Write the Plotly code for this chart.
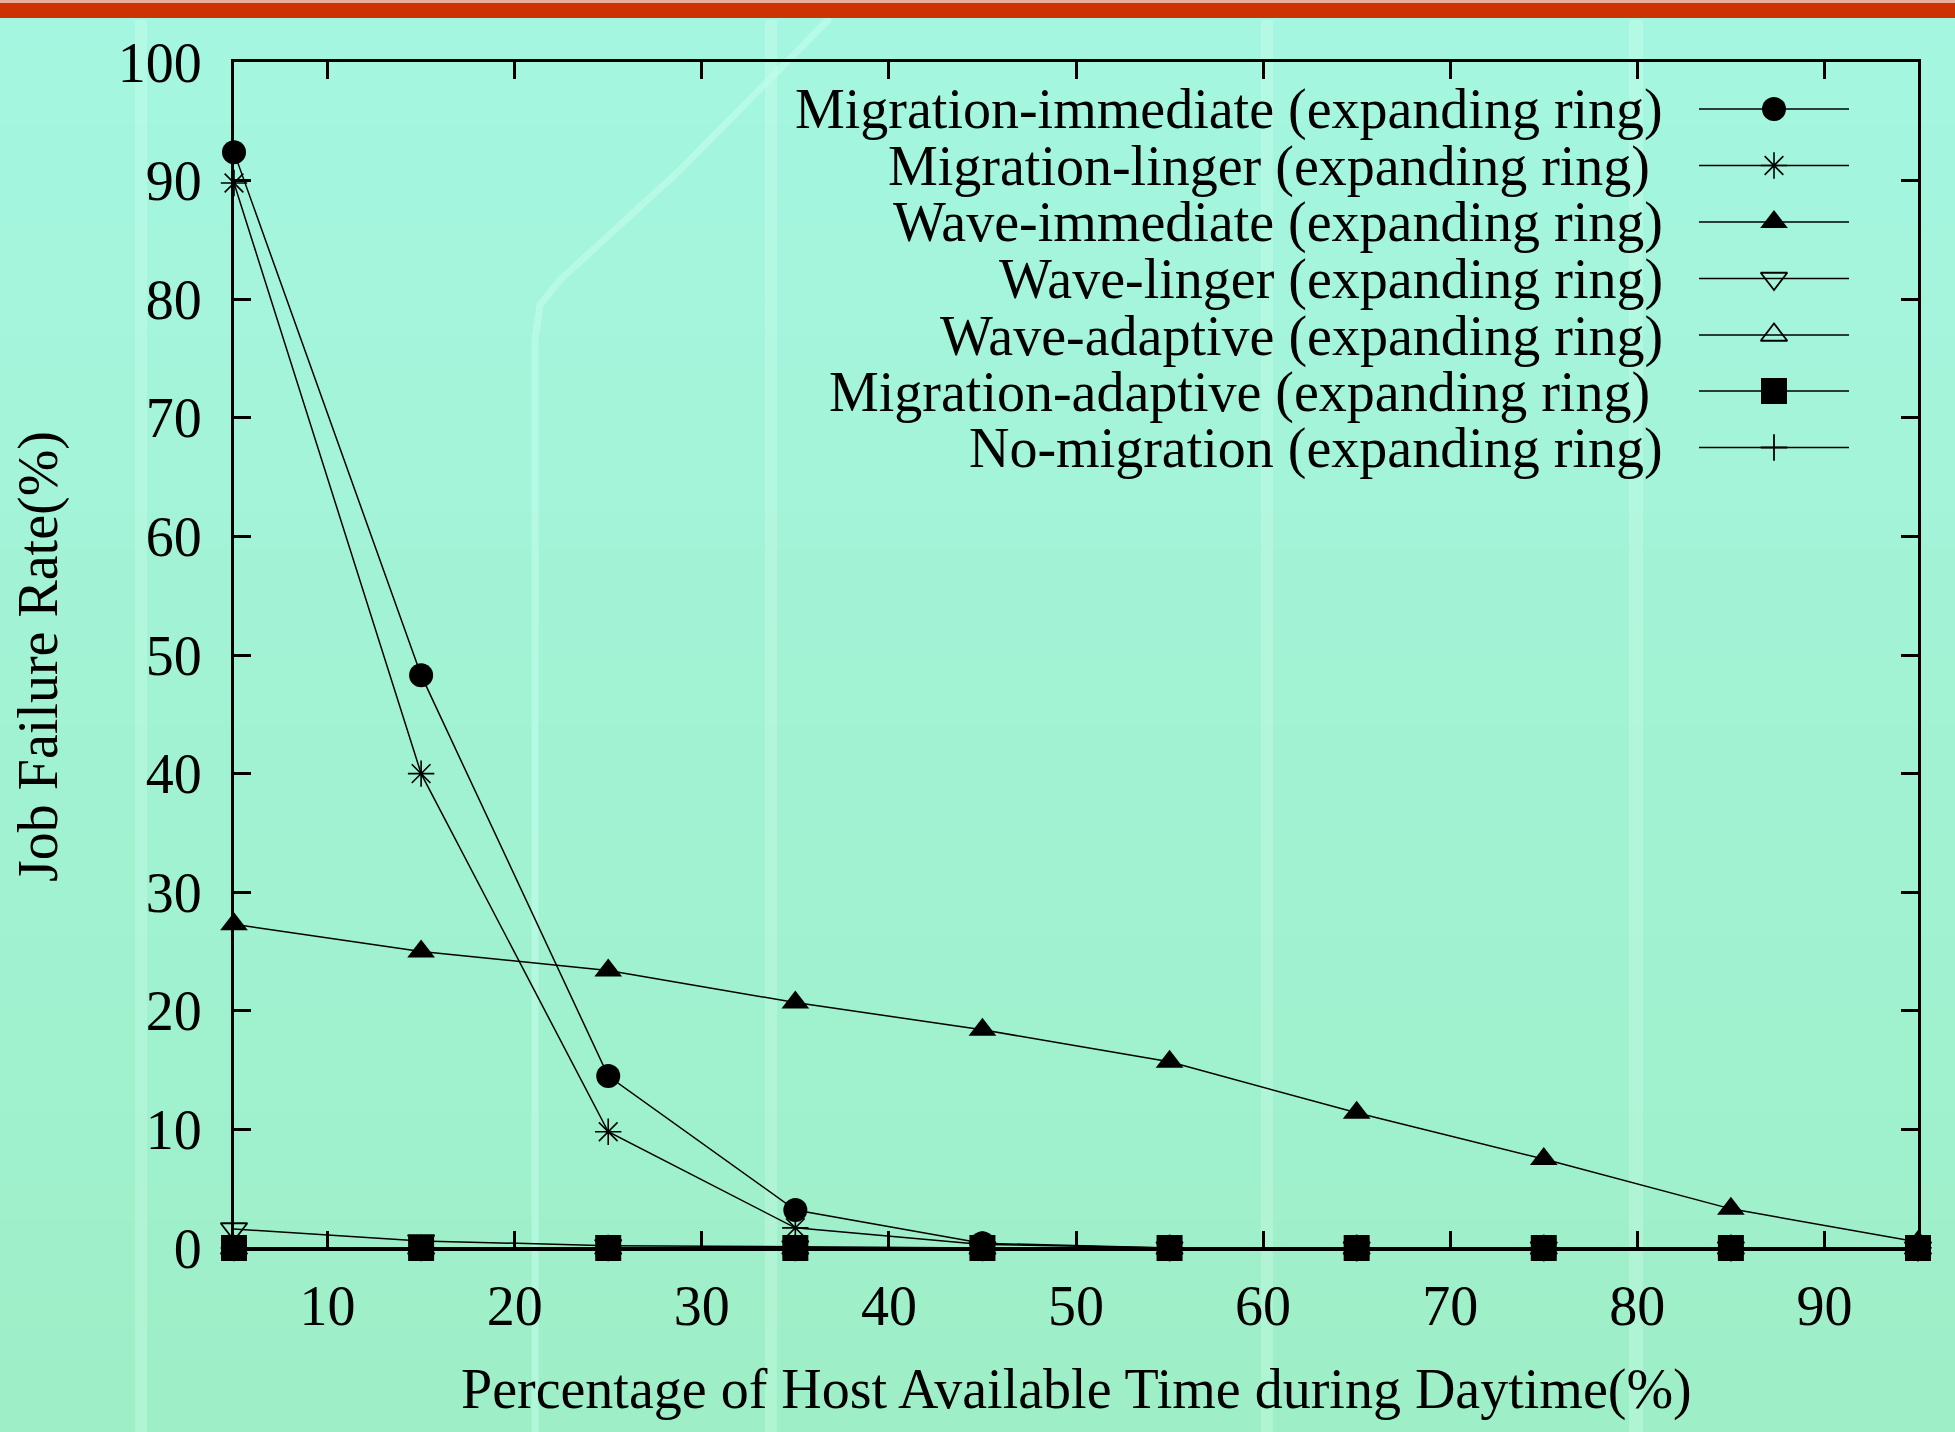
import plotly.graph_objects as go

# ---------------- data ----------------
x_vals = [5, 15, 25, 35, 45, 55, 65, 75, 85, 95]
series_names = [
    "Migration-immediate (expanding ring)",
    "Migration-linger (expanding ring)",
    "Wave-immediate (expanding ring)",
    "Wave-linger (expanding ring)",
    "Wave-adaptive (expanding ring)",
    "Migration-adaptive (expanding ring)",
    "No-migration (expanding ring)",
]
migration_immediate = [92.4, 48.3, 14.5, 3.2, 0.4, 0, 0, 0, 0, 0]
migration_linger = [89.8, 40.0, 9.8, 1.7, 0.3, 0, 0, 0, 0, 0]
wave_immediate = [27.3, 25.0, 23.4, 20.7, 18.4, 15.7, 11.4, 7.5, 3.3, 0.5]
wave_linger = [1.6, 0.6, 0.2, 0.1, 0, 0, 0, 0, 0, 0]
wave_adaptive = [0, 0, 0, 0, 0, 0, 0, 0, 0, 0]
migration_adaptive = [0, 0, 0, 0, 0, 0, 0, 0, 0, 0]
no_migration = [0, 0, 0, 0, 0, 0, 0, 0, 0, 0]
series_values = [migration_immediate, migration_linger, wave_immediate,
                 wave_linger, wave_adaptive, migration_adaptive, no_migration]
x_ticks = [10, 20, 30, 40, 50, 60, 70, 80, 90]
y_ticks = [0, 10, 20, 30, 40, 50, 60, 70, 80, 90, 100]
x_title = "Percentage of Host Available Time during Daytime(%)"
y_title = "Job Failure Rate(%)"

# ---------------- styles ----------------
W, H = 1955, 1432
L, R, T, B = 234, 37, 62, 184
FONT = "Liberation Serif, Times New Roman, serif"
FS = 56
symbols = ["circle", "asterisk-open", "triangle-up", "triangle-down-open",
           "triangle-up-open", "square", "cross-thin-open"]
sizes = [24, 22, 24, 23, 23, 26, 19]
mlw = [0, 1.6, 0, 1.8, 1.8, 0, 1.8]


def px(xp):
    return (xp - L) / (W - L - R)


def py(yp):
    return (H - B - yp) / (H - T - B)


fig = go.Figure()
for name, vals, sym, sz, lw in zip(series_names, series_values, symbols, sizes, mlw):
    fig.add_trace(go.Scatter(
        x=x_vals, y=vals, name=name, mode="lines+markers",
        line=dict(color="black", width=1.5),
        marker=dict(symbol=sym, size=sz, color="black",
                    line=dict(color="black", width=lw)),
        cliponaxis=False, showlegend=False))

# ------------- gnuplot-style key (text left, sample right) -------------
row_y = [109, 165.5, 222, 278.5, 335, 391, 447.5]
text_right = [1665, 1652, 1665, 1665, 1665, 1652, 1665]
annotations = []
for i, (name, sym, sz, lw) in enumerate(zip(series_names, symbols, sizes, mlw)):
    fig.add_trace(go.Scatter(
        x=[1699, 1849], y=[row_y[i], row_y[i]], mode="lines",
        line=dict(color="black", width=1.5), xaxis="x2", yaxis="y2",
        showlegend=False, hoverinfo="skip"))
    fig.add_trace(go.Scatter(
        x=[1774], y=[row_y[i]], mode="markers",
        marker=dict(symbol=sym, size=sz, color="black",
                    line=dict(color="black", width=lw)),
        xaxis="x2", yaxis="y2", showlegend=False, hoverinfo="skip"))
    annotations.append(dict(
        x=px(text_right[i]), y=py(row_y[i] + 1), xref="paper", yref="paper",
        text=name, showarrow=False, xanchor="right", yanchor="middle",
        font=dict(family=FONT, size=FS, color="black")))

annotations.append(dict(x=px(1076), y=py(1390), xref="paper", yref="paper",
                        text=x_title, showarrow=False, xanchor="center",
                        yanchor="middle",
                        font=dict(family=FONT, size=FS, color="black")))
annotations.append(dict(x=px(38), y=py(657), xref="paper", yref="paper",
                        text=y_title, textangle=-90, showarrow=False,
                        xanchor="center", yanchor="middle",
                        font=dict(family=FONT, size=FS, color="black")))

# ---------------- background decoration ----------------
shapes = []
top_c = (165, 246, 224)
bot_c = (158, 239, 199)
nb = 40
y0 = 18
for k in range(nb):
    a = y0 + (H - y0) * k / nb
    b = y0 + (H - y0) * (k + 1) / nb
    t = (k + 0.5) / nb
    c = tuple(int(round(top_c[j] + (bot_c[j] - top_c[j]) * t)) for j in range(3))
    shapes.append(dict(type="rect", xref="paper", yref="paper",
                       x0=px(0), x1=px(W), y0=py(b), y1=py(a - 0.5),
                       fillcolor="rgb(%d,%d,%d)" % c, line=dict(width=0),
                       layer="below"))
# vertical light stripes
for sx, sw in [(141, 12), (771, 12), (1267, 12), (1636, 14)]:
    shapes.append(dict(type="rect", xref="paper", yref="paper",
                       x0=px(sx - sw / 2), x1=px(sx + sw / 2), y0=py(H), y1=py(20),
                       fillcolor="rgba(215,255,240,0.3)", line=dict(width=0),
                       layer="below"))
# curved light streak
pts = [(535, H), (535, 340), (540, 305), (560, 280), (680, 170), (830, 18)]
path = "M " + " L ".join("%f,%f" % (px(a), py(b)) for a, b in pts)
shapes.append(dict(type="path", xref="paper", yref="paper", path=path,
                   line=dict(color="rgba(200,255,240,0.5)", width=7),
                   layer="below"))
# top red bar
shapes.append(dict(type="rect", xref="paper", yref="paper",
                   x0=px(0), x1=px(W), y0=py(18), y1=py(3),
                   fillcolor="#CC3300", line=dict(width=0), layer="below"))
shapes.append(dict(type="rect", xref="paper", yref="paper",
                   x0=px(0), x1=px(W), y0=py(3), y1=py(0),
                   fillcolor="#E8B098", line=dict(width=0), layer="below"))

axis_common = dict(showgrid=False, zeroline=False, showline=True,
                   linecolor="black", linewidth=3, ticks="inside",
                   ticklen=17, tickwidth=2.5, tickcolor="black",
                   mirror="ticks",
                   tickfont=dict(family=FONT, size=FS, color="black"))

fig.update_layout(
    width=W, height=H,
    margin=dict(l=L, r=R, t=T, b=B, pad=0),
    paper_bgcolor="#A2F3D5", plot_bgcolor="rgba(0,0,0,0)",
    xaxis=dict(range=[5, 95], tickvals=x_ticks, ticklabelstandoff=7,
               **axis_common),
    yaxis=dict(range=[0, 100], tickvals=y_ticks, ticklabelstandoff=18,
               **axis_common),
    xaxis2=dict(range=[L, W - R], overlaying="x", visible=False,
                domain=[0, 1], anchor="y2"),
    yaxis2=dict(range=[H - B, T], overlaying="y", visible=False,
                domain=[0, 1], anchor="x2"),
    shapes=shapes, annotations=annotations, showlegend=False,
)

fig.write_html("out.html")
